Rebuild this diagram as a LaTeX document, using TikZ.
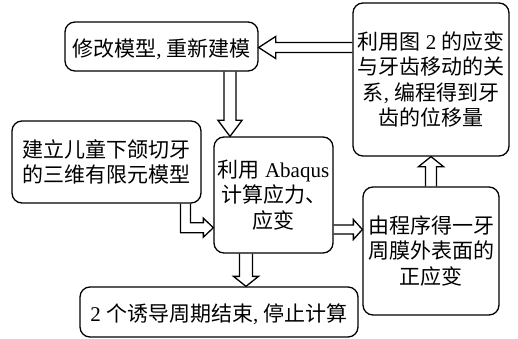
\documentclass[tikz,border=0pt]{standalone}
\usepackage{fontspec}
\setmainfont{Noto Sans CJK SC}
\newfontfamily\lat{Liberation Serif}
\usetikzlibrary{calc}
\newcommand\blockarrow[5]{% #1 start, #2 end, #3 shaft half width, #4 head half width, #5 head length
  \coordinate (hb) at ($(#2)!#5!(#1)$);
  \draw[arr] ($(#1)!#3!90:(#2)$) -- ($(hb)!#3!90:(#2)$) -- ($(hb)!#4!90:(#2)$) -- (#2)
    -- ($(hb)!#4!-90:(#2)$) -- ($(hb)!#3!-90:(#2)$) -- ($(#1)!#3!-90:(#2)$);
}
\begin{document}
\begin{tikzpicture}[x=1pt,y=-1pt,
  box/.style={draw, line width=1.3pt, rounded corners=10pt, inner sep=0pt, align=center,
    font=\fontsize{21}{25.5}\selectfont, execute at begin node={\rule{0pt}{23pt}}},
  arr/.style={draw, line width=1.3pt, line join=miter}]
\useasboundingbox (0,0) rectangle (518,339);
\node[box, minimum width=193pt, minimum height=49pt] (A) at (161.5,46.5) {修改模型{\lat, }重新建模};
\node[box, minimum width=156pt, minimum height=153pt] (B) at (431,79.5)
  {利用图{\lat\ 2 }的应变\\与牙齿移动的关\\系{\lat, }编程得到牙\\齿的位移量};
\node[box, minimum width=189pt, minimum height=82pt] (C) at (106.5,162)
  {建立儿童下颌切牙\\的三维有限元模型};
\node[box, minimum width=119pt, minimum height=116pt] (D) at (273.5,195)
  {利用{\lat\ Abaqus}\\计算应力、\\应变};
\node[box, minimum width=136pt, minimum height=128pt] (E) at (431,251)
  {由程序得一牙\\周膜外表面的\\正应变};
\node[box, minimum width=278pt, minimum height=50pt] (F) at (219,312)
  {{\lat 2 }个诱导周期结束{\lat, }停止计算};
% connectors
\coordinate (baS) at (B.west |- 0,47.5);
\coordinate (baE) at (A.east |- 0,47.5);
\blockarrow{baS}{baE}{5pt}{11pt}{17pt}
\coordinate (adS) at (230,0 |- A.south);
\coordinate (adE) at (230,0 |- D.north);
\blockarrow{adS}{adE}{6pt}{12pt}{16pt}
\coordinate (deS) at (D.east |- 0,229.5);
\coordinate (deE) at (E.west |- 0,229.5);
\blockarrow{deS}{deE}{4.5pt}{10pt}{9pt}
\coordinate (ebS) at (431,0 |- E.north);
\coordinate (ebE) at (431,0 |- B.south);
\blockarrow{ebS}{ebE}{5.5pt}{12.5pt}{10pt}
\coordinate (dfS) at (246,0 |- D.south);
\coordinate (dfE) at (246,0 |- F.north);
\blockarrow{dfS}{dfE}{6.5pt}{12.5pt}{10pt}
\coordinate (cdS) at (185.5,0 |- C.south);
\coordinate (cdE) at (D.west |- 0,227.7);
\coordinate (cdM) at (cdS |- cdE);
\draw[arr] ([shift={(-5,0)}]cdS) -- ([shift={(-5,5)}]cdM) -- ([shift={(-10,5)}]cdE)
  -- ([shift={(-10,9.5)}]cdE) -- (cdE) -- ([shift={(-10,-9.5)}]cdE) -- ([shift={(-10,-5)}]cdE)
  -- ([shift={(5,-5)}]cdM) -- ([shift={(5,0)}]cdS);
\end{tikzpicture}
\end{document}
